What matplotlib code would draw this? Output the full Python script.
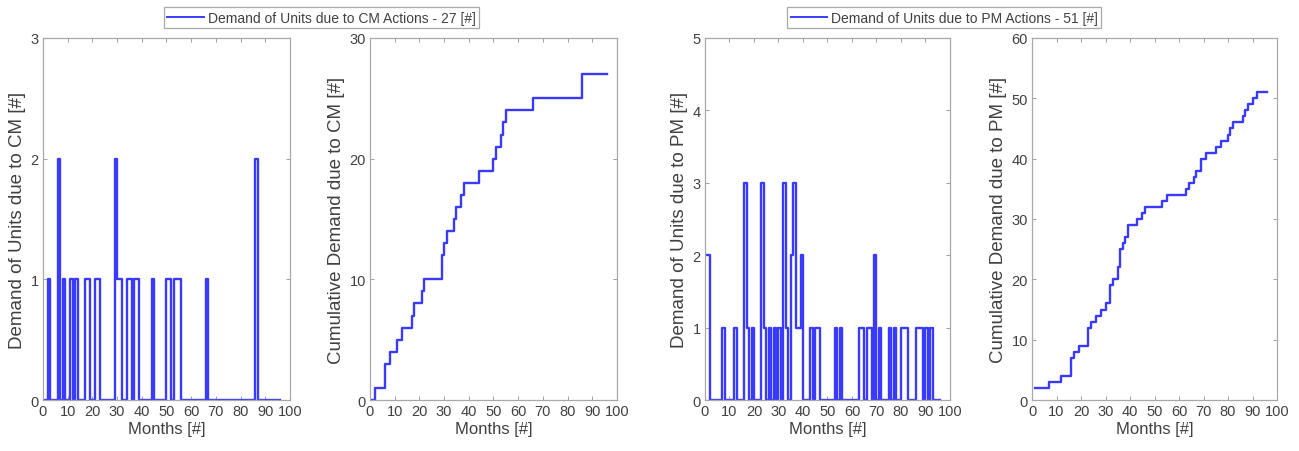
import numpy as np
import matplotlib
matplotlib.use("Agg")
import matplotlib.pyplot as plt

plt.rcParams['font.family'] = ['Liberation Sans', 'DejaVu Sans']

# months simulated
months = np.arange(1, 97)

# CM demand events: month -> units
cm_event_months = [2, 6, 8, 11, 13, 17, 18, 21, 22, 29, 30, 31, 34, 35,
                   37, 38, 44, 50, 51, 53, 54, 55, 66, 86]
cm_event_units = [1, 2, 1, 1, 1, 1, 1, 1, 1, 2, 1, 1, 1, 1,
                  1, 1, 1, 1, 1, 1, 1, 1, 1, 2]

# PM demand events: month -> units
pm_event_months = [1, 7, 12, 16, 17, 19, 23, 24, 26, 28, 30, 32, 33, 35,
                   36, 37, 38, 39, 43, 45, 46, 53, 55, 63, 64, 66, 67, 69,
                   71, 75, 77, 80, 81, 82, 86, 87, 88, 90, 92]
pm_event_units = [2, 1, 1, 3, 1, 1, 3, 1, 1, 1, 1, 3, 1, 2,
                  3, 1, 1, 2, 1, 1, 1, 1, 1, 1, 1, 1, 1, 2,
                  1, 1, 1, 1, 1, 1, 1, 1, 1, 1, 1]

x_ticks = [0, 10, 20, 30, 40, 50, 60, 70, 80, 90, 100]


def monthly(ev_months, ev_units):
    d = np.zeros(len(months))
    for m, u in zip(ev_months, ev_units):
        d[m - 1] += u
    return d


cm = monthly(cm_event_months, cm_event_units)
pm = monthly(pm_event_months, pm_event_units)

LINE = '#3a3aff'
TXT = '#404040'
AX = '#a8a8a8'
LW = 1.7

fig = plt.figure(figsize=(12.99, 4.52), dpi=100)
bottom, height = 0.1128, 0.801
ax1 = fig.add_axes([0.0331, bottom, 0.1901, height])
ax2 = fig.add_axes([0.2848, bottom, 0.1901, height])
ax3 = fig.add_axes([0.5427, bottom, 0.1886, height])
ax4 = fig.add_axes([0.7945, bottom, 0.1886, height])


def style(ax, ymax, ystep, ylabel):
    ax.set_xlim(0, 100)
    ax.set_ylim(0, ymax)
    ax.set_xticks(x_ticks)
    ax.set_yticks(np.arange(0, ymax + 1, ystep))
    ax.tick_params(direction='in', top=True, right=True, length=3,
                   width=0.6, color='#909090', labelcolor=TXT,
                   labelsize=10.5, pad=3)
    for s in ax.spines.values():
        s.set_color(AX)
        s.set_linewidth(0.9)
    ax.set_xlabel('Months [#]', fontsize=12, color=TXT, labelpad=2)
    ax.set_ylabel(ylabel, fontsize=13.5, color=TXT, labelpad=3)


l1, = ax1.step(months, cm, where='post', color=LINE, lw=LW)
style(ax1, 3, 1, 'Demand of Units due to CM [#]')

ax2.step(months, np.cumsum(cm), where='post', color=LINE, lw=LW)
style(ax2, 30, 10, 'Cumulative Demand due to CM [#]')

l3, = ax3.step(months, pm, where='post', color=LINE, lw=LW)
style(ax3, 5, 1, 'Demand of Units due to PM [#]')

ax4.step(months, np.cumsum(pm), where='post', color=LINE, lw=LW)
style(ax4, 60, 10, 'Cumulative Demand due to PM [#]')

for handle, label, cx in [(l1, 'Demand of Units due to CM Actions - 27 [#]', 0.2475),
                          (l3, 'Demand of Units due to PM Actions - 51 [#]', 0.727)]:
    leg = fig.legend([handle], [label], loc='center', bbox_to_anchor=(cx, 0.959),
                     fontsize=10, fancybox=False, framealpha=1, edgecolor=AX,
                     handlelength=2.6, handletextpad=0.3, borderpad=0.25,
                     borderaxespad=0)
    leg.get_frame().set_linewidth(0.9)
    leg.get_lines()[0].set_linewidth(1.4)
    for t in leg.get_texts():
        t.set_color(TXT)

fig.savefig('out.png', dpi=100)
